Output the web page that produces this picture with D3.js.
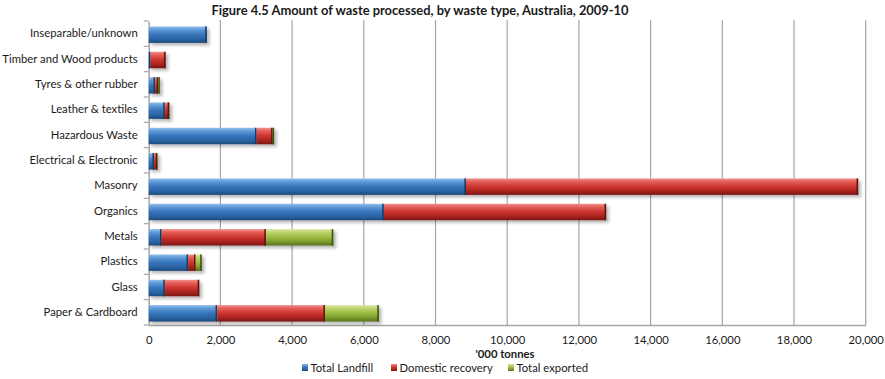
<!DOCTYPE html>
<html>
<head>
<meta charset="utf-8">
<script src="https://cdn.jsdelivr.net/npm/d3@7"></script>
<style>
  html, body { margin: 0; padding: 0; background: #fff; }
  svg { display: block; font-family: Lato, "Open Sans", sans-serif; }
</style>
</head>
<body>
<svg id="chart" width="885" height="379"></svg>
<script>
const title = "Figure 4.5 Amount of waste processed, by waste type, Australia, 2009-10";
const categories = [
  "Inseparable/unknown",
  "Timber and Wood products",
  "Tyres & other rubber",
  "Leather & textiles",
  "Hazardous Waste",
  "Electrical & Electronic",
  "Masonry",
  "Organics",
  "Metals",
  "Plastics",
  "Glass",
  "Paper & Cardboard"
];
const seriesNames = ["Total Landfill", "Domestic recovery", "Total exported"];
const totalLandfill     = [1620,  50, 180, 450, 3010, 150, 8850, 6560,  360, 1100, 450, 1910];
const domesticRecovery  = [   0, 420,  90, 120,  450,  90, 10940, 6200, 2910, 210, 960, 3010];
const totalExported     = [   0,   0,  40,  10,   40,  10,    0,    0, 1880, 170,   0, 1500];
const xTicks = [0, 2000, 4000, 6000, 8000, 10000, 12000, 14000, 16000, 18000, 20000];
const xAxisTitle = "'000 tonnes";

const svg = d3.select("#chart");
const margin = { left: 148.7, right: 885 - 865.7, top: 21, bottom: 379 - 325 };
const W = 885, H = 379;

const x = d3.scaleLinear().domain([0, 20000]).range([margin.left, W - margin.right]);
const y = d3.scaleBand().domain(categories).range([margin.top, H - margin.bottom]).paddingInner(0.35).paddingOuter(0.175);

// gradients
const defs = svg.append("defs");
const palettes = [
  { id: "gBlue",  stops: ["#94c0ec", "#629cd8", "#3574bb", "#2a65a5", "#1d4a7a"], cap: "#163c66" },
  { id: "gRed",   stops: ["#f29591", "#e5605a", "#cb342f", "#ab2420", "#7a1714"], cap: "#5e1210" },
  { id: "gGreen", stops: ["#dde9a6", "#bdd56f", "#9aba40", "#7e9c2e", "#58721d"], cap: "#3f5314" }
];
palettes.forEach(p => {
  const g = defs.append("linearGradient").attr("id", p.id).attr("x1", 0).attr("y1", 0).attr("x2", 0).attr("y2", 1);
  const offs = [0, 0.18, 0.5, 0.75, 1];
  p.stops.forEach((c, i) => g.append("stop").attr("offset", offs[i]).attr("stop-color", c));
});
const f = defs.append("filter").attr("id", "shadow").attr("x", "-10%").attr("y", "-30%").attr("width", "130%").attr("height", "180%");
f.append("feDropShadow").attr("dx", 2.5).attr("dy", 2.5).attr("stdDeviation", 1.6).attr("flood-color", "#000").attr("flood-opacity", 0.28);

// title
svg.append("text")
  .attr("x", 420).attr("y", 15)
  .attr("text-anchor", "middle")
  .attr("font-weight", "bold").attr("font-size", 12.9)
  .attr("fill", "#1a1a1a")
  .text(title);

// gridlines
svg.append("g").selectAll("line").data(xTicks.filter(d => d > 0)).join("line")
  .attr("x1", d => x(d)).attr("x2", d => x(d))
  .attr("y1", margin.top - 1).attr("y2", H - margin.bottom)
  .attr("stroke", "#a6a6a6").attr("stroke-width", 1.2);

// x axis
const xAxis = svg.append("g").attr("transform", `translate(0,${H - margin.bottom})`)
  .call(d3.axisBottom(x).tickValues(xTicks).tickSize(0).tickPadding(11).tickFormat(d3.format(",")));
xAxis.select(".domain").attr("stroke", "#a6a6a6").attr("stroke-width", 1.5);
xAxis.selectAll("text").attr("font-size", 11.3).attr("fill", "#1a1a1a").attr("font-family", "Lato, sans-serif");

svg.append("text")
  .attr("x", 505).attr("y", 358)
  .attr("text-anchor", "middle")
  .attr("font-weight", "bold").attr("font-size", 11.3).attr("fill", "#1a1a1a")
  .text(xAxisTitle);

// y axis
const yAxis = svg.append("g").attr("transform", `translate(${margin.left},0)`)
  .call(d3.axisLeft(y).tickSize(0).tickPadding(11));
yAxis.select(".domain").attr("stroke", "#a6a6a6").attr("stroke-width", 1.5);
yAxis.selectAll("text").attr("font-size", 11.3).attr("fill", "#1a1a1a").attr("font-family", "Lato, sans-serif");
// boundary tick marks
const step = y.step();
const bounds = d3.range(categories.length + 1).map(i => margin.top + i * step);
yAxis.append("g").selectAll("line").data(bounds).join("line")
  .attr("x1", -5).attr("x2", 0)
  .attr("y1", d => d).attr("y2", d => d)
  .attr("stroke", "#a6a6a6").attr("stroke-width", 1.2);

// stacked bars
const rows = categories.map((c, i) => ({ cat: c, v: [totalLandfill[i], domesticRecovery[i], totalExported[i]] }));
const barsG = svg.append("g").attr("filter", "url(#shadow)");
rows.forEach(r => {
  let acc = 0;
  const g = barsG.append("g");
  r.v.forEach((val, si) => {
    if (val <= 0) return;
    const x0 = x(acc), x1 = x(acc + val);
    acc += val;
    g.append("rect")
      .attr("x", x0).attr("y", y(r.cat) + 1)
      .attr("width", Math.max(0, x1 - x0)).attr("height", y.bandwidth())
      .attr("fill", `url(#${palettes[si].id})`);
    g.append("rect")
      .attr("x", Math.max(x0, x1 - 1.6)).attr("y", y(r.cat) + 1)
      .attr("width", Math.min(1.6, x1 - x0)).attr("height", y.bandwidth())
      .attr("fill", palettes[si].cap);
  });
});

// legend
const legendItems = [
  { name: seriesNames[0], x: 302, p: palettes[0] },
  { name: seriesNames[1], x: 391, p: palettes[1] },
  { name: seriesNames[2], x: 508, p: palettes[2] }
];
const lg = svg.append("g");
legendItems.forEach(it => {
  lg.append("rect").attr("x", it.x).attr("y", 364).attr("width", 6).attr("height", 7)
    .attr("fill", `url(#${it.p.id})`);
  lg.append("text").attr("x", it.x + 8.5).attr("y", 372)
    .attr("font-size", 11.3).attr("fill", "#1a1a1a").text(it.name);
});
</script>
</body>
</html>
